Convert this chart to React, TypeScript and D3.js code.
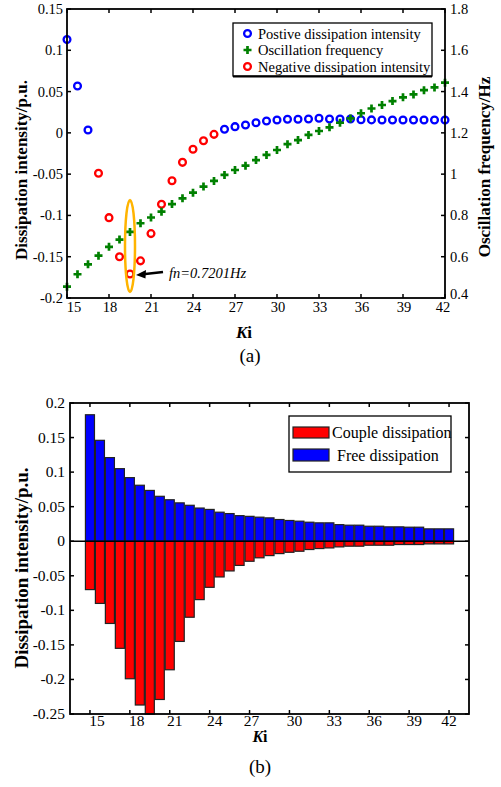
import React from "react";
import * as d3 from "d3";

const ki = [15, 15.75, 16.5, 17.25, 18, 18.75, 19.5, 20.25, 21, 21.75, 22.5, 23.25, 24, 24.75, 25.5, 26.25, 27, 27.75, 28.5, 29.25, 30, 30.75, 31.5, 32.25, 33, 33.75, 34.5, 35.25, 36, 36.75, 37.5, 38.25, 39, 39.75, 40.5, 41.25, 42];
const freq = [0.455, 0.515, 0.563, 0.605, 0.648, 0.683, 0.72, 0.762, 0.79, 0.818, 0.855, 0.883, 0.91, 0.94, 0.967, 0.996, 1.02, 1.041, 1.068, 1.093, 1.117, 1.145, 1.165, 1.19, 1.209, 1.227, 1.249, 1.27, 1.295, 1.318, 1.335, 1.354, 1.372, 1.386, 1.407, 1.42, 1.443];
const dissipation = [0.113, 0.0567, 0.0035, -0.049, -0.1027, -0.15, -0.171, -0.155, -0.122, -0.0865, -0.058, -0.0357, -0.0199, -0.0095, -0.0018, 0.0043, 0.0075, 0.0095, 0.0123, 0.0144, 0.0156, 0.0164, 0.0164, 0.0168, 0.0176, 0.0168, 0.0168, 0.0168, 0.0158, 0.0157, 0.0156, 0.0156, 0.0155, 0.0155, 0.0155, 0.0155, 0.0155];
const freeDiss = [0.183, 0.146, 0.121, 0.105, 0.092, 0.081, 0.0735, 0.065, 0.06, 0.0555, 0.052, 0.048, 0.046, 0.042, 0.04, 0.037, 0.036, 0.0348, 0.0338, 0.0314, 0.03, 0.029, 0.0275, 0.0266, 0.0266, 0.024, 0.0232, 0.0232, 0.0217, 0.0217, 0.0208, 0.0208, 0.0203, 0.0203, 0.0179, 0.0179, 0.0179];
const coupleDiss = [-0.07, -0.09, -0.119, -0.155, -0.199, -0.237, -0.25, -0.229, -0.186, -0.145, -0.11, -0.0845, -0.0667, -0.0517, -0.043, -0.035, -0.029, -0.024, -0.0208, -0.0179, -0.016, -0.0145, -0.012, -0.0106, -0.0097, -0.0082, -0.0072, -0.0072, -0.0058, -0.0058, -0.0058, -0.0048, -0.0048, -0.0048, -0.0039, -0.0039, -0.0039];

const xTicks = [15, 18, 21, 24, 27, 30, 33, 36, 39, 42];
const yTicksA = [-0.2, -0.15, -0.1, -0.05, 0, 0.05, 0.1, 0.15];
const yTicksFreq = [0.4, 0.6, 0.8, 1, 1.2, 1.4, 1.6, 1.8];
const yTicksB = [-0.25, -0.2, -0.15, -0.1, -0.05, 0, 0.05, 0.1, 0.15, 0.2];
const legendA = ["Postive dissipation intensity", "Oscillation frequency", "Negative dissipation intensity"];
const legendB = ["Couple dissipation", "Free dissipation"];
const fnLabel = "fn=0.7201Hz";
const fnKi = 19.5;

const SERIF = "'Liberation Serif', 'Times New Roman', serif";
const BLUE = "#0000ff";
const RED = "#ff0000";
const GREEN = "#008000";

const fmt = (v: number) => String(+v.toFixed(2));

function Cross({ x, y, s = 4 }: { x: number; y: number; s?: number }) {
  return (
    <path d={`M${x - s},${y}H${x + s}M${x},${y - s}V${y + s}`} stroke={GREEN} strokeWidth={2.7} fill="none" />
  );
}

function ChartA() {
  const L = 67, R = 445, T = 9, B = 298;
  const x = d3.scaleLinear().domain([15, 42]).range([L, R]);
  const y = d3.scaleLinear().domain([-0.2, 0.15]).range([B, T]);
  const yF = d3.scaleLinear().domain([0.4, 1.8]).range([B, T]);
  const tl = 4;
  const xOff = (t: number) => (t === 15 ? 7 : t === 42 ? -2 : 1);
  return (
    <g fontFamily={SERIF}>
      {ki.map((k, i) => (
        <circle key={"d" + i} cx={x(k)} cy={y(dissipation[i])} r={3.4} fill="none"
          stroke={dissipation[i] >= 0 ? BLUE : RED} strokeWidth={2.3} />
      ))}
      {ki.map((k, i) => (
        <Cross key={"f" + i} x={x(k)} y={yF(freq[i])} />
      ))}
      <ellipse cx={x(fnKi)} cy={246} rx={5} ry={46} fill="none" stroke="#ffb400" strokeWidth={2.5} />
      <line x1={163} y1={272} x2={143} y2={274.3} stroke="#000" strokeWidth={2.4} />
      <path d="M136,275 L146,270 L145.5,278.5 Z" fill="#000" />
      <text x={169} y={278} fontSize={14.5} fontStyle="italic">{fnLabel}</text>
      <rect x={L} y={T} width={R - L} height={B - T} fill="none" stroke="#000" strokeWidth={1.8} />
      {xTicks.map((t) => (
        <g key={"xt" + t}>
          <line x1={x(t)} x2={x(t)} y1={B} y2={B - tl} stroke="#000" strokeWidth={1.5} />
          <line x1={x(t)} x2={x(t)} y1={T} y2={T + tl} stroke="#000" strokeWidth={1.5} />
          <text x={x(t) + xOff(t)} y={312} fontSize={14.5} textAnchor="middle">{t}</text>
        </g>
      ))}
      {yTicksA.map((t) => (
        <g key={"ya" + t}>
          <line x1={L} x2={L + tl} y1={y(t)} y2={y(t)} stroke="#000" strokeWidth={1.5} />
          <text x={63} y={y(t) + 5} fontSize={14.5} textAnchor="end">{fmt(t)}</text>
        </g>
      ))}
      {yTicksFreq.map((t) => (
        <g key={"yf" + t}>
          <line x1={R} x2={R - tl} y1={yF(t)} y2={yF(t)} stroke="#000" strokeWidth={1.5} />
          <text x={450} y={yF(t) + (t === 0.4 ? 1 : 5)} fontSize={14.5} textAnchor="start">{fmt(t)}</text>
        </g>
      ))}
      <text transform="translate(27,170) rotate(-90)" fontSize={17} fontWeight="bold" textAnchor="middle">Dissipation intensity/p.u.</text>
      <text transform="translate(490,167) rotate(-90)" fontSize={17} fontWeight="bold" textAnchor="middle">Oscillation frequency/Hz</text>
      <text x={244} y={338} fontSize={17} fontWeight="bold" textAnchor="middle">
        <tspan fontStyle="italic">K</tspan><tspan>i</tspan>
      </text>
      <text x={250} y={362} fontSize={19} textAnchor="middle">(a)</text>
      <rect x={233} y={23} width={199} height={53} fill="#fff" stroke="#000" strokeWidth={1.3} />
      <line x1={233} x2={432} y1={76.5} y2={76.5} stroke="#000" strokeWidth={2} />
      <circle cx={247.5} cy={33.5} r={3.4} fill="none" stroke={BLUE} strokeWidth={2.3} />
      <Cross x={247.5} y={50} />
      <circle cx={247.5} cy={66.5} r={3.4} fill="none" stroke={RED} strokeWidth={2.3} />
      {legendA.map((s, i) => (
        <text key={s} x={258} y={38.5 + i * 16.6} fontSize={14.5}>{s}</text>
      ))}
    </g>
  );
}

function ChartB() {
  const L = 70, R = 469, T = 403, B = 714;
  const x = d3.scaleLinear().domain([13.5, 43.5]).range([L, R]);
  const y = d3.scaleLinear().domain([-0.25, 0.2]).range([B, T]);
  const tl = 4;
  const hw = 0.34;
  const xOff = (t: number) => (t === 15 || t === 18 ? 7 : t === 42 ? 0 : t === 27 ? 2 : 5);
  return (
    <g fontFamily={SERIF}>
      {ki.map((k, i) => (
        <rect key={"c" + i} x={x(k - hw)} width={x(k + hw) - x(k - hw)} y={y(0)} height={y(coupleDiss[i]) - y(0)}
          fill={RED} stroke="#222" strokeWidth={1.2} />
      ))}
      {ki.map((k, i) => (
        <rect key={"f" + i} x={x(k - hw)} width={x(k + hw) - x(k - hw)} y={y(freeDiss[i])} height={y(0) - y(freeDiss[i])}
          fill={BLUE} stroke="#222" strokeWidth={1.2} />
      ))}
      <line x1={L} x2={R} y1={y(0)} y2={y(0)} stroke="#000" strokeWidth={1.5} />
      <rect x={L} y={T} width={R - L} height={B - T} fill="none" stroke="#000" strokeWidth={1.8} />
      {xTicks.map((t) => (
        <g key={"xt" + t}>
          <line x1={x(t)} x2={x(t)} y1={B} y2={B - tl} stroke="#000" strokeWidth={1.5} />
          <line x1={x(t)} x2={x(t)} y1={T} y2={T + tl} stroke="#000" strokeWidth={1.5} />
          <text x={x(t) + xOff(t)} y={726} fontSize={15.5} textAnchor="middle">{t}</text>
        </g>
      ))}
      {yTicksB.map((t) => (
        <g key={"yb" + t}>
          <line x1={L} x2={L + tl} y1={y(t)} y2={y(t)} stroke="#000" strokeWidth={1.5} />
          <line x1={R} x2={R - tl} y1={y(t)} y2={y(t)} stroke="#000" strokeWidth={1.5} />
          <text x={65} y={y(t) + 5} fontSize={15.5} textAnchor="end">{fmt(t)}</text>
        </g>
      ))}
      <text transform="translate(28,568) rotate(-90)" fontSize={19} fontWeight="bold" textAnchor="middle">Dissipation intensity/p.u.</text>
      <text x={260} y={742} fontSize={16} fontWeight="bold" textAnchor="middle">
        <tspan fontStyle="italic">K</tspan><tspan>i</tspan>
      </text>
      <text x={260} y={773} fontSize={19} textAnchor="middle">(b)</text>
      <rect x={289} y={416} width={162} height={56} fill="#fff" stroke="#000" strokeWidth={1.3} />
      <rect x={293} y={427} width={36} height={11} fill={RED} stroke="#222" strokeWidth={1.2} />
      <rect x={293} y={449} width={36} height={12} fill={BLUE} stroke="#222" strokeWidth={1.2} />
      <text x={332} y={438} fontSize={16}>{legendB[0]}</text>
      <text x={337} y={461} fontSize={16}>{legendB[1]}</text>
    </g>
  );
}

export default function App() {
  return (
    <svg width={501} height={787} style={{ position: "absolute", left: 0, top: 0, background: "#fff" }}>
      <rect width={501} height={787} fill="#fff" />
      <ChartA />
      <ChartB />
    </svg>
  );
}
